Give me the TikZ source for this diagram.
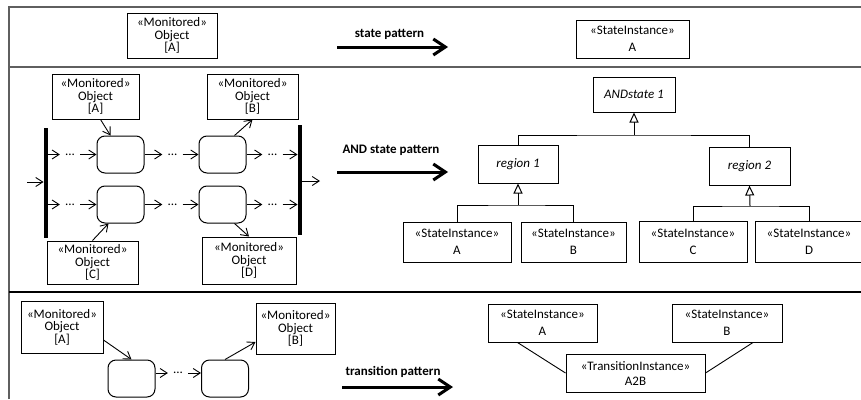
\documentclass[tikz,border=0pt]{standalone}
\usepackage{fontspec}
\setmainfont{Carlito}
\usepackage{tikz}
\usetikzlibrary{arrows.meta, positioning}
\definecolor{FrameGray}{RGB}{95,95,95}

\begin{document}
\begin{tikzpicture}[x=1pt, y=-1pt,
    mon/.style={rectangle, draw, line width=1pt, minimum width=88pt,
                minimum height=45pt, inner sep=1pt, align=center,
                font=\fontsize{13}{12.5}\selectfont},
    inst/.style={rectangle, draw, line width=1pt, minimum width=108pt,
                 minimum height=38pt, inner sep=1pt, align=center,
                 font=\fontsize{13}{17}\selectfont},
    abst/.style={rectangle, draw, line width=1pt, minimum width=80pt,
                 minimum height=37pt, font=\fontsize{13}{13}\selectfont\itshape},
    st/.style={rectangle, draw, rounded corners=8pt, line width=1pt,
               minimum width=47pt, minimum height=37pt},
    bar/.style={rectangle, fill=black, inner sep=0pt, minimum width=4.5pt,
                minimum height=110pt},
    dots/.style={inner ysep=0pt, inner xsep=5pt, font=\fontsize{13}{13}\selectfont},
    lbl/.style={font=\fontsize{13}{13}\selectfont\bfseries},
    arr/.style={-{Straight Barb[length=7pt, width=9pt]}, line width=0.9pt},
    pat/.style={-{Straight Barb[length=12pt, width=16pt]}, line width=3pt},
    gen/.style={-{Triangle[open, length=10pt, width=9pt]}, line width=1pt},
    frame/.style={FrameGray, line width=1.3pt}
  ]
  \useasboundingbox (0,0) rectangle (861,399);

  % Frame
  \draw[frame] (9,399) -- (9,7) -- (861,7);
  \draw[frame] (9,67) -- (861,67);
  \draw[line width=1.2pt] (9,292) -- (861,292);

  % State pattern
  \node[mon, minimum width=90pt] (m0) at (172,35.5) {«Monitored»\\Object\\{[A]}};
  \node[lbl] (l1) at (389.5,34) {state pattern};
  \coordinate (p1a) at (337,47);
  \coordinate (p1b) at (448,47);
  \draw[pat] (p1a) -- (p1b);
  \node[inst, minimum width=113pt] (si0) at (632.5,39) {«StateInstance»\\A};

  % AND state pattern: source
  \node[mon, minimum width=87pt] (mA) at (95.5,96.5) {«Monitored»\\Object\\{[A]}};
  \node[mon, minimum width=91pt] (mB) at (252.5,96.5) {«Monitored»\\Object\\{[B]}};
  \node[mon, minimum width=91pt, minimum height=43pt] (mC) at (92.5,262.5) {«Monitored»\\Object\\{[C]}};
  \node[mon, minimum width=94pt, minimum height=47pt] (mD) at (249,260.5) {«Monitored»\\Object\\{[D]}};

  \node[bar] (barL) at (46,183) {};
  \node[bar] (barR) at (300,180) {};
  \coordinate (start) at (27,182);
  \coordinate (fin) at (320,181);

  \node[st] (s1) at (120.5,154.5) {};
  \node[st] (s2) at (222.5,154.5) {};
  \node[st] (s3) at (120.5,204.5) {};
  \node[st] (s4) at (222.5,204.5) {};

  \node[dots] (d1) at (70,154.5) {...};
  \node[dots] (d2) at (172.5,154.5) {...};
  \node[dots] (d3) at (272.5,154.5) {...};
  \node[dots] (d4) at (70,204.5) {...};
  \node[dots] (d5) at (172.5,204.5) {...};
  \node[dots] (d6) at (272.5,204.5) {...};

  \draw[arr] (start) -- (barL.west |- start);
  \draw[arr] (barR.east |- fin) -- (fin);
  \draw[arr] (barL.east |- d1) -- (d1);
  \draw[arr] (d1) -- (s1);
  \draw[arr] (s1) -- (d2);
  \draw[arr] (d2) -- (s2);
  \draw[arr] (s2) -- (d3);
  \draw[arr] (d3) -- (barR.west |- d3);
  \draw[arr] (barL.east |- d4) -- (d4);
  \draw[arr] (d4) -- (s3);
  \draw[arr] (s3) -- (d5);
  \draw[arr] (d5) -- (s4);
  \draw[arr] (s4) -- (d6);
  \draw[arr] (d6) -- (barR.west |- d6);

  \draw[arr] ([xshift=5pt]mA.south) -- ([xshift=-10pt]s1.north);
  \draw[arr] ([xshift=12pt]s2.north) -- (mB.south);
  \draw[arr] (mC.north) -- ([xshift=-12pt]s3.south);
  \draw[arr] ([xshift=12pt]s4.south) -- (mD.north);

  % AND state pattern
  \node[lbl] (l2) at (391,150) {AND state pattern};
  \coordinate (p2a) at (337,172);
  \coordinate (p2b) at (448,172);
  \draw[pat] (p2a) -- (p2b);

  % AND state pattern: target
  \node[abst, minimum width=82pt, minimum height=35pt] (and1) at (634,94.5) {ANDstate 1};
  \node[abst, minimum height=38pt] (r1) at (518,164) {region 1};
  \node[abst, minimum width=81pt, minimum height=38pt] (r2) at (749.5,166) {region 2};
  \node[inst, minimum height=40pt] (siA) at (457,242) {«StateInstance»\\A};
  \node[inst, minimum width=105pt, minimum height=40pt] (siB) at (573.5,242) {«StateInstance»\\B};
  \node[inst, minimum height=41pt] (siC) at (693,241.5) {«StateInstance»\\C};
  \node[inst, minimum height=41pt] (siD) at (809,241.5) {«StateInstance»\\D};

  \coordinate (j0) at (634,135);
  \coordinate (j1) at (518,205);
  \coordinate (j2) at (750,206);
  \draw[line width=1pt] (r1.north) |- (j0) -| (r2.north);
  \draw[gen] (j0) -- (and1.south);
  \draw[line width=1pt] (siA.north) |- (j1) -| (siB.north);
  \draw[gen] (j1) -- (r1.south);
  \draw[line width=1pt] (siC.north) |- (j2) -| (siD.north);
  \draw[gen] (j2) -- (r2.south);

  % Transition pattern: source
  \node[mon, minimum width=82pt, minimum height=52pt] (tmA) at (62,327) {«Monitored»\\Object\\{[A]}};
  \node[mon, minimum width=79pt, minimum height=51pt] (tmB) at (295.5,328.5) {«Monitored»\\Object\\{[B]}};
  \node[st] (s5) at (131.5,378.5) {};
  \node[st] (s6) at (225,378.5) {};
  \node[dots] (d7) at (178,373) {...};
  \draw[arr] (s5.east |- d7) -- (d7);
  \draw[arr] (d7) -- (s6.west |- d7);
  \draw[arr] ([yshift=-13pt]tmA.east) -- (s5.north);
  \draw[arr] (s6.north) -- ([yshift=-13.5pt]tmB.west);

  % Transition pattern
  \node[lbl] (l3) at (393,372) {transition pattern};
  \coordinate (p3a) at (342,387);
  \coordinate (p3b) at (453,387);
  \draw[pat] (p3a) -- (p3b);

  % Transition pattern: target
  \node[inst, minimum width=109pt] (tA) at (542.5,323) {«StateInstance»\\A};
  \node[inst, minimum width=110pt] (tB) at (727,323) {«StateInstance»\\B};
  \node[inst, minimum width=139pt, font=\fontsize{13}{15}\selectfont] (ti) at (635.5,373)
        {«TransitionInstance»\\A2B};
  \draw[line width=0.9pt] ([xshift=-25pt]tA.south) -- (ti.west);
  \draw[line width=0.9pt] ([xshift=26pt]tB.south) -- (ti.east);
\end{tikzpicture}
\end{document}
